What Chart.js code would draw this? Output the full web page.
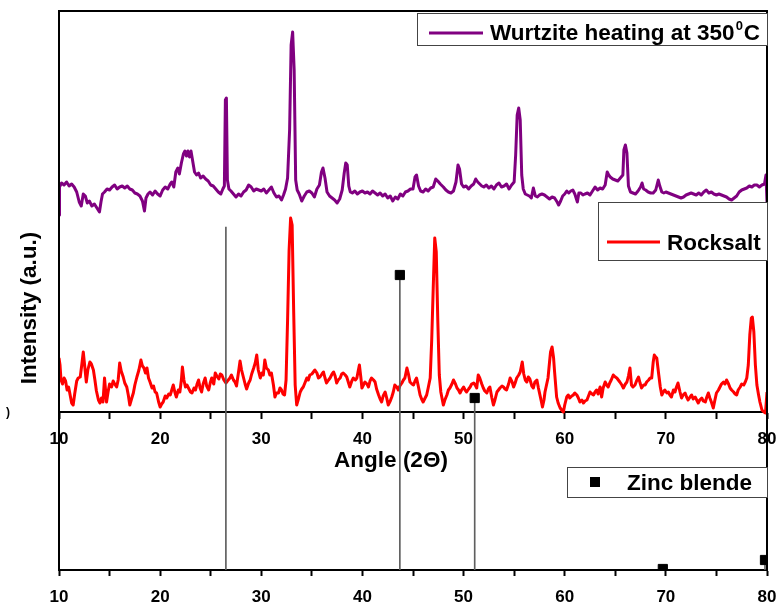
<!DOCTYPE html>
<html>
<head>
<meta charset="utf-8">
<script src="https://cdn.jsdelivr.net/npm/chart.js@4.4.1/dist/chart.umd.min.js"></script>
<style>
  html, body { margin: 0; padding: 0; background: #ffffff; }
  #wrap { width: 781px; height: 607px; position: relative; }
</style>
</head>
<body>
<div id="wrap"><canvas id="xrd" width="781" height="607"></canvas></div>
<script>
// Labelled positions on both 2θ axes
const angleTickLabels = [10, 20, 30, 40, 50, 60, 70, 80];

// Wurtzite sample after heating at 350 °C (offset trace, a.u.)
const wurtziteAngle = [
  10.00, 10.05, 10.25, 10.5, 10.75, 11.0, 11.25, 11.5, 11.75, 12.0, 12.2, 12.4, 12.6, 12.8, 13.0, 13.25, 13.5, 13.75, 14.0, 14.15,
  14.3, 14.5, 14.75, 15.0, 15.25, 15.5, 15.75, 16.0, 16.25, 16.5, 16.75, 17.0, 17.25, 17.5, 17.75, 18.0, 18.25, 18.45, 18.6, 18.8,
  19.0, 19.25, 19.5, 19.75, 20.0, 20.25, 20.5, 20.75, 21.0, 21.15, 21.35, 21.55, 21.75, 21.9, 22.1, 22.3, 22.45, 22.6, 22.75, 22.9,
  23.05, 23.2, 23.4, 23.6, 23.8, 24.0, 24.25, 24.5, 24.75, 25.0, 25.25, 25.5, 25.75, 26.0, 26.2, 26.35, 26.45, 26.55, 26.65, 26.8,
  27.0, 27.25, 27.5, 27.75, 28.0, 28.25, 28.5, 28.75, 29.0, 29.25, 29.5, 29.75, 30.0, 30.25, 30.5, 30.75, 31.0, 31.25, 31.5, 31.75,
  32.0, 32.2, 32.4, 32.6, 32.8, 32.95, 33.1, 33.25, 33.4, 33.55, 33.75, 34.0, 34.25, 34.5, 34.75, 35.0, 35.25, 35.5, 35.75, 35.95,
  36.1, 36.3, 36.5, 36.75, 37.0, 37.25, 37.5, 37.75, 38.0, 38.2, 38.35, 38.5, 38.65, 38.8, 39.0, 39.25, 39.5, 39.75, 40.0, 40.25,
  40.5, 40.75, 41.0, 41.25, 41.5, 41.75, 42.0, 42.25, 42.5, 42.75, 43.0, 43.25, 43.5, 43.75, 44.0, 44.25, 44.5, 44.75, 45.0, 45.2,
  45.35, 45.55, 45.75, 46.0, 46.25, 46.5, 46.75, 47.0, 47.25, 47.45, 47.7, 48.0, 48.25, 48.5, 48.75, 49.0, 49.25, 49.45, 49.6, 49.8,
  50.0, 50.25, 50.5, 50.75, 51.0, 51.2, 51.4, 51.6, 51.8, 52.0, 52.25, 52.5, 52.75, 53.0, 53.25, 53.5, 53.75, 54.0, 54.25, 54.5,
  54.75, 55.0, 55.15, 55.3, 55.45, 55.6, 55.75, 55.9, 56.1, 56.3, 56.5, 56.7, 56.9, 57.1, 57.3, 57.5, 57.75, 58.0, 58.25, 58.5,
  58.75, 59.0, 59.25, 59.4, 59.6, 59.8, 60.0, 60.2, 60.4, 60.6, 60.8, 61.0, 61.25, 61.4, 61.6, 61.8, 62.0, 62.25, 62.5, 62.75,
  63.0, 63.25, 63.5, 63.75, 64.0, 64.2, 64.35, 64.5, 64.75, 65.0, 65.25, 65.5, 65.75, 65.85, 66.0, 66.15, 66.3, 66.5, 66.75, 67.0,
  67.25, 67.5, 67.65, 67.8, 68.0, 68.25, 68.5, 68.75, 69.0, 69.25, 69.4, 69.6, 69.8, 70.0, 70.25, 70.5, 70.75, 71.0, 71.25, 71.5,
  71.75, 72.0, 72.25, 72.5, 72.75, 73.0, 73.25, 73.5, 73.75, 74.0, 74.25, 74.5, 74.75, 75.0, 75.25, 75.5, 75.75, 76.0, 76.25, 76.5,
  76.75, 77.0, 77.25, 77.5, 77.75, 78.0, 78.25, 78.5, 78.75, 79.0, 79.25, 79.5, 79.75, 79.9, 80.0
];
const wurtziteIntensity = [
  355, 383, 387, 385, 388, 384, 386, 383, 378, 368, 364, 376, 374, 367, 369, 364, 366, 362, 358, 368,
  376, 378, 381, 380, 383, 385, 381, 383, 384, 382, 384, 381, 380, 377, 376, 374, 369, 359, 372, 376,
  378, 375, 379, 376, 374, 380, 383, 381, 386, 388, 383, 398, 402, 396, 407, 416, 419, 414, 419, 413,
  419, 410, 398, 395, 397, 392, 394, 391, 389, 385, 384, 381, 378, 376, 381, 384, 470, 472, 390, 381,
  379, 376, 373, 376, 374, 378, 380, 385, 383, 379, 381, 380, 379, 381, 377, 380, 383, 377, 373, 374,
  370, 375, 381, 392, 440, 525, 538, 500, 390, 380, 376, 369, 374, 378, 379, 377, 373, 381, 385, 398,
  402, 392, 378, 374, 372, 370, 367, 371, 380, 397, 407, 405, 384, 378, 377, 379, 376, 378, 379, 377,
  378, 376, 379, 377, 375, 377, 374, 376, 372, 374, 369, 373, 371, 376, 374, 378, 379, 381, 381, 393,
  395, 384, 379, 378, 381, 379, 382, 383, 391, 389, 386, 383, 380, 378, 377, 379, 388, 405, 401, 386,
  383, 384, 381, 384, 386, 391, 388, 386, 384, 383, 385, 382, 384, 381, 385, 387, 383, 384, 386, 381,
  385, 388, 415, 455, 462, 450, 395, 381, 376, 375, 374, 372, 382, 374, 373, 375, 376, 375, 373, 371,
  373, 372, 368, 365, 369, 374, 376, 379, 377, 379, 380, 376, 368, 377, 377, 375, 376, 377, 375, 379,
  383, 380, 382, 381, 385, 398, 395, 393, 391, 390, 389, 392, 395, 420, 425, 417, 384, 378, 377, 376,
  379, 383, 387, 381, 380, 378, 377, 377, 380, 390, 384, 378, 377, 378, 377, 376, 375, 374, 373, 372,
  373, 375, 376, 377, 376, 375, 377, 375, 378, 380, 377, 378, 376, 375, 376, 375, 374, 373, 371, 370,
  372, 374, 378, 380, 381, 382, 384, 383, 385, 385, 383, 385, 386, 395, 368
];

// Rocksalt pattern (a.u.)
const rocksaltAngle = [
  10.0, 10.1, 10.2, 10.35, 10.5, 10.65, 10.8, 10.95, 11.1, 11.25, 11.4, 11.55, 11.75, 11.9, 12.1, 12.25, 12.4, 12.55, 12.7, 12.85,
  13.05, 13.2, 13.4, 13.55, 13.7, 13.9, 14.05, 14.2, 14.35, 14.5, 14.6, 14.7, 14.85, 15.0, 15.2, 15.35, 15.5, 15.7, 15.85, 16.0,
  16.15, 16.35, 16.5, 16.7, 16.85, 17.0, 17.2, 17.35, 17.5, 17.7, 17.9, 18.1, 18.25, 18.4, 18.55, 18.7, 18.85, 19.0, 19.2, 19.35,
  19.5, 19.65, 19.85, 20.0, 20.15, 20.3, 20.5, 20.65, 20.85, 21.0, 21.15, 21.3, 21.45, 21.6, 21.8, 21.95, 22.1, 22.2, 22.35, 22.5,
  22.65, 22.8, 23.0, 23.15, 23.35, 23.5, 23.65, 23.8, 23.95, 24.1, 24.25, 24.45, 24.6, 24.8, 24.95, 25.1, 25.3, 25.45, 25.6, 25.8,
  25.95, 26.1, 26.3, 26.5, 26.65, 26.9, 27.05, 27.25, 27.4, 27.55, 27.75, 27.9, 28.05, 28.25, 28.4, 28.55, 28.75, 28.9, 29.05, 29.25,
  29.4, 29.55, 29.7, 29.9, 30.05, 30.2, 30.35, 30.5, 30.7, 30.85, 31.0, 31.2, 31.35, 31.5, 31.7, 31.85, 32.0, 32.15, 32.3, 32.45,
  32.6, 32.75, 32.9, 33.05, 33.2, 33.35, 33.5, 33.7, 33.85, 34.0, 34.15, 34.35, 34.5, 34.65, 34.8, 35.0, 35.15, 35.3, 35.5, 35.65,
  35.8, 36.0, 36.15, 36.3, 36.45, 36.65, 36.8, 37.0, 37.15, 37.3, 37.45, 37.6, 37.8, 37.95, 38.1, 38.3, 38.45, 38.6, 38.75, 38.95,
  39.1, 39.3, 39.45, 39.6, 39.7, 39.85, 39.95, 40.1, 40.25, 40.45, 40.6, 40.75, 40.9, 41.1, 41.25, 41.4, 41.6, 41.75, 41.9, 42.05,
  42.25, 42.4, 42.55, 42.75, 42.9, 43.05, 43.2, 43.4, 43.55, 43.7, 43.9, 44.05, 44.2, 44.4, 44.55, 44.7, 44.9, 45.05, 45.2, 45.35,
  45.5, 45.7, 45.85, 46.0, 46.2, 46.35, 46.5, 46.7, 46.85, 47.0, 47.15, 47.3, 47.45, 47.6, 47.75, 48.0, 48.15, 48.35, 48.5, 48.65,
  48.85, 49.0, 49.2, 49.35, 49.5, 49.65, 49.8, 50.0, 50.15, 50.3, 50.5, 50.65, 50.8, 51.0, 51.15, 51.3, 51.45, 51.6, 51.8, 51.95,
  52.1, 52.3, 52.45, 52.6, 52.8, 52.95, 53.1, 53.3, 53.45, 53.6, 53.8, 53.95, 54.1, 54.25, 54.45, 54.6, 54.8, 54.95, 55.1, 55.25,
  55.45, 55.6, 55.8, 55.95, 56.1, 56.25, 56.4, 56.55, 56.75, 56.9, 57.05, 57.25, 57.4, 57.55, 57.7, 57.8, 57.95, 58.05, 58.2, 58.35,
  58.5, 58.6, 58.75, 58.9, 59.0, 59.2, 59.35, 59.55, 59.7, 59.87, 60.0, 60.2, 60.35, 60.5, 60.7, 60.85, 61.0, 61.2, 61.35, 61.5,
  61.7, 61.85, 62.0, 62.2, 62.35, 62.5, 62.7, 62.85, 63.0, 63.15, 63.3, 63.5, 63.65, 63.8, 64.0, 64.15, 64.3, 64.45, 64.6, 64.8,
  65.0, 65.15, 65.3, 65.45, 65.65, 65.8, 66.0, 66.15, 66.3, 66.45, 66.6, 66.75, 66.95, 67.1, 67.3, 67.45, 67.6, 67.8, 67.95, 68.1,
  68.3, 68.45, 68.6, 68.75, 68.86, 69.0, 69.1, 69.3, 69.45, 69.6, 69.75, 69.9, 70.1, 70.25, 70.4, 70.55, 70.75, 70.9, 71.05, 71.2,
  71.4, 71.55, 71.7, 71.9, 72.05, 72.2, 72.4, 72.55, 72.7, 72.9, 73.05, 73.2, 73.35, 73.55, 73.7, 73.9, 74.05, 74.2, 74.35, 74.5,
  74.69, 74.85, 75.0, 75.2, 75.35, 75.5, 75.7, 75.85, 76.0, 76.2, 76.35, 76.5, 76.7, 76.85, 77.0, 77.15, 77.35, 77.5, 77.7, 77.85,
  78.0, 78.15, 78.3, 78.45, 78.55, 78.7, 78.85, 79.0, 79.15, 79.3, 79.5, 79.7, 79.85, 80.0
];
const rocksaltIntensity = [
  212, 205, 190, 186, 192, 189, 180, 183, 175, 167, 165, 176, 189, 192, 193, 205, 218, 203, 188, 200,
  208, 206, 200, 190, 179, 170, 167, 172, 168, 192, 180, 168, 178, 186, 183, 189, 186, 183, 190, 207,
  199, 193, 187, 183, 175, 165, 172, 177, 185, 193, 200, 210, 204, 202, 197, 202, 192, 188, 182, 184,
  178, 177, 168, 163, 166, 168, 174, 172, 176, 175, 180, 185, 178, 173, 180, 178, 190, 203, 190, 183,
  185, 182, 178, 177, 182, 180, 186, 190, 182, 178, 186, 192, 184, 180, 187, 192, 186, 197, 194, 191,
  196, 195, 190, 187, 189, 192, 195, 190, 188, 184, 198, 209, 200, 192, 186, 181, 187, 190, 196, 202,
  207, 215, 200, 192, 197, 195, 210, 202, 200, 195, 197, 185, 173, 177, 177, 182, 180, 176, 175, 190,
  250, 320, 352, 345, 260, 185, 165, 172, 178, 181, 183, 188, 192, 190, 195, 196, 198, 200, 197, 192,
  193, 196, 198, 192, 187, 190, 192, 196, 198, 194, 187, 190, 192, 196, 197, 195, 193, 188, 183, 189,
  192, 190, 192, 200, 205, 192, 182, 185, 188, 186, 183, 189, 192, 190, 188, 181, 175, 171, 168, 174,
  178, 172, 165, 169, 173, 178, 185, 183, 180, 184, 187, 190, 192, 202, 196, 188, 186, 185, 189, 192,
  185, 175, 171, 168, 172, 175, 182, 192, 230, 282, 332, 318, 250, 195, 178, 165, 170, 175, 180, 182,
  186, 190, 186, 182, 180, 177, 180, 183, 180, 178, 181, 183, 186, 187, 185, 182, 195, 192, 186, 182,
  179, 177, 181, 183, 172, 165, 170, 178, 180, 182, 184, 183, 181, 180, 186, 192, 188, 183, 187, 192,
  195, 198, 208, 196, 190, 188, 193, 191, 184, 182, 188, 190, 182, 175, 168, 163, 170, 178, 185, 192,
  208, 218, 223, 212, 198, 173, 167, 162, 160, 158, 165, 173, 175, 172, 174, 175, 177, 175, 172, 168,
  170, 167, 169, 170, 174, 178, 176, 175, 178, 180, 176, 183, 173, 182, 188, 185, 183, 187, 190, 195,
  193, 192, 190, 188, 185, 182, 186, 188, 194, 202, 185, 183, 185, 189, 193, 187, 182, 185, 185, 188,
  190, 192, 192, 208, 215, 213, 212, 195, 183, 175, 178, 180, 177, 178, 175, 173, 180, 178, 183, 187,
  178, 172, 175, 177, 173, 170, 173, 175, 171, 173, 170, 167, 170, 172, 169, 168, 173, 177, 172, 168,
  162, 170, 177, 180, 183, 186, 188, 186, 190, 186, 182, 180, 178, 176, 175, 180, 183, 186, 185, 188,
  192, 205, 235, 252, 253, 238, 205, 185, 176, 168, 160, 158, 157, 178
];

// Zinc blende reference reflections (stick pattern, a.u.)
const zincBlendeAngle = [26.5, 43.7, 51.1, 69.7, 79.8];
const zincBlendeIntensity = [343, 295, 172, 1, 10];

const legendLabels = ['Wurtzite heating at 350', 'Rocksalt', 'Zinc blende'];

const FONT = '"Liberation Sans", Arial, Helvetica, sans-serif';
const PURPLE = '#800080';
const RED = '#ff0000';

function pairs(xs, ys) {
  return xs.map((x, i) => ({ x: x, y: ys[i] }));
}

const angleTicks = {
  stepSize: 5,
  autoSkip: false,
  maxRotation: 0,
  padding: 11,
  color: '#000',
  font: { family: FONT, size: 17, weight: 'bold' },
  callback: (v) => (angleTickLabels.includes(v) ? String(v) : '')
};
const angleGrid = {
  offset: false,
  drawOnChartArea: false,
  drawTicks: true,
  tickLength: 6,
  tickWidth: 2,
  tickColor: '#000'
};
const angleBorder = { display: true, color: '#000', width: 2 };

// Let the layout padding alone decide the plot edges
function noLabelOverhang(s) {
  s.paddingLeft = 0;
  s.paddingRight = 0;
}

// Frame, axis titles and the three legend boxes
const decorations = {
  id: 'decorations',
  afterDraw(chart) {
    const ctx = chart.ctx;
    const a = chart.chartArea;
    ctx.save();

    // left, top and right frame lines
    ctx.strokeStyle = '#000';
    ctx.lineWidth = 2;
    ctx.beginPath();
    ctx.moveTo(a.left, a.bottom);
    ctx.lineTo(a.left, a.top);
    ctx.lineTo(a.right, a.top);
    ctx.lineTo(a.right, a.bottom);
    ctx.stroke();

    // y title
    ctx.fillStyle = '#000';
    ctx.font = 'bold 22.5px ' + FONT;
    ctx.save();
    ctx.translate(a.left - 29, a.top + 297);
    ctx.rotate(-Math.PI / 2);
    ctx.textAlign = 'center';
    ctx.textBaseline = 'middle';
    ctx.fillText('Intensity (a.u.)', 0, 0);
    ctx.restore();

    // x title under the upper angle axis
    ctx.textAlign = 'center';
    ctx.textBaseline = 'alphabetic';
    ctx.fillText('Angle (2\u0398)', a.left + 332, a.top + 456);

    // stray mark at the left edge
    ctx.font = 'bold 12px ' + FONT;
    ctx.textAlign = 'left';
    ctx.fillText(')', a.left - 53, a.top + 405);

    const drawBox = (x, y, w, h) => {
      ctx.fillStyle = '#fff';
      ctx.fillRect(x, y, w, h);
      ctx.strokeStyle = '#444';
      ctx.lineWidth = 1;
      ctx.strokeRect(x + 0.5, y + 0.5, w, h);
    };
    const lineSample = (x1, x2, y, color) => {
      ctx.strokeStyle = color;
      ctx.lineWidth = 3;
      ctx.beginPath();
      ctx.moveTo(x1, y);
      ctx.lineTo(x2, y);
      ctx.stroke();
    };

    // Wurtzite legend
    let bx = a.right - 350, by = a.top + 2;
    drawBox(bx, by, 350, 32);
    lineSample(bx + 12, bx + 66, by + 20, PURPLE);
    ctx.fillStyle = '#000';
    ctx.textAlign = 'left';
    ctx.textBaseline = 'alphabetic';
    ctx.font = 'bold 22.5px ' + FONT;
    const main = legendLabels[0];
    ctx.fillText(main, bx + 73, by + 27);
    const w = ctx.measureText(main).width;
    ctx.font = 'bold 13px ' + FONT;
    ctx.fillText('0', bx + 73 + w + 1, by + 17);
    const w0 = ctx.measureText('0').width;
    ctx.font = 'bold 22.5px ' + FONT;
    ctx.fillText('C', bx + 73 + w + w0 + 2, by + 27);

    // Rocksalt legend
    bx = a.right - 169; by = a.top + 191;
    drawBox(bx, by, 169, 58);
    lineSample(bx + 9, bx + 62, by + 40, RED);
    ctx.fillStyle = '#000';
    ctx.font = 'bold 22.5px ' + FONT;
    ctx.fillText(legendLabels[1], bx + 69, by + 48);

    // Zinc blende legend
    bx = a.right - 200; by = a.top + 456;
    drawBox(bx, by, 200, 30);
    ctx.fillStyle = '#000';
    ctx.fillRect(bx + 23, by + 10, 10, 10);
    ctx.fillText(legendLabels[2], bx + 60, by + 23);

    ctx.restore();
  }
};

new Chart(document.getElementById('xrd'), {
  type: 'scatter',
  data: {
    datasets: [
      {
        type: 'scatter',
        label: 'Zinc blende',
        data: pairs(zincBlendeAngle, zincBlendeIntensity),
        pointStyle: 'rect',
        // the strongest reflection is drawn as a plain stick
        pointRadius: (c) => (c.dataIndex === 0 ? 0 : 6.5),
        pointBackgroundColor: '#000',
        pointBorderColor: '#000',
        pointBorderWidth: 1,
        showLine: false
      },
      {
        type: 'bar',
        label: 'Zinc blende sticks',
        data: pairs(zincBlendeAngle, zincBlendeIntensity),
        backgroundColor: '#5f5f5f',
        barThickness: 1,
        grouped: false
      },
      {
        type: 'line',
        label: 'Rocksalt',
        data: pairs(rocksaltAngle, rocksaltIntensity),
        borderColor: RED,
        borderWidth: 3,
        pointRadius: 0,
        tension: 0,
        borderJoinStyle: 'round'
      },
      {
        type: 'line',
        label: 'Wurtzite heating at 350°C',
        data: pairs(wurtziteAngle, wurtziteIntensity),
        borderColor: PURPLE,
        borderWidth: 3,
        pointRadius: 0,
        tension: 0,
        borderJoinStyle: 'round'
      }
    ]
  },
  options: {
    responsive: false,
    animation: false,
    devicePixelRatio: 1,
    layout: { padding: { left: 59, right: 14, top: 11, bottom: 0 } },
    plugins: { legend: { display: false }, tooltip: { enabled: false } },
    scales: {
      x: {
        type: 'linear',
        position: 'bottom',
        offset: false,
        min: 10,
        max: 80,
        ticks: angleTicks,
        grid: angleGrid,
        border: angleBorder,
        afterFit: (s) => { s.height = 37; noLabelOverhang(s); }
      },
      x2: {
        type: 'linear',
        axis: 'x',
        position: { y: 158 },
        offset: false,
        min: 10,
        max: 80,
        ticks: angleTicks,
        grid: angleGrid,
        border: angleBorder,
        afterFit: noLabelOverhang
      },
      y: {
        type: 'linear',
        min: 0,
        max: 559,
        display: false
      }
    }
  },
  plugins: [decorations]
});
</script>
</body>
</html>
